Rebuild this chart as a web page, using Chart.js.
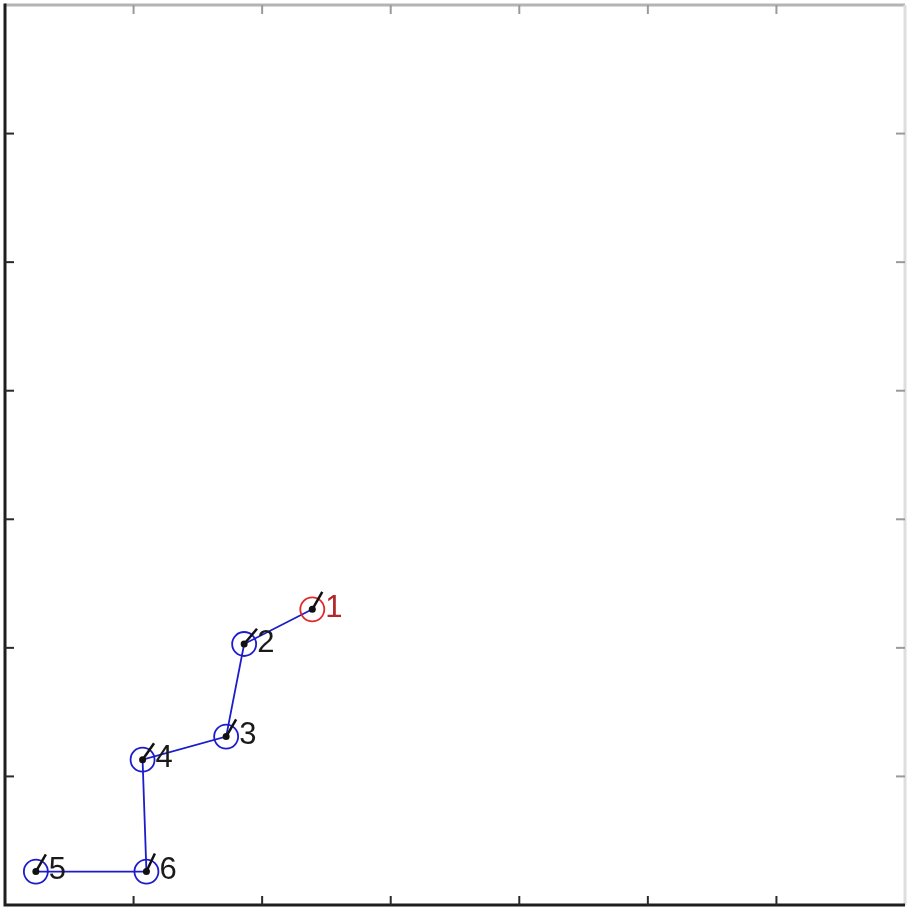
<!DOCTYPE html>
<html>
<head>
<meta charset="utf-8">
<script src="https://cdn.jsdelivr.net/npm/chart.js@4/dist/chart.umd.min.js"></script>
<style>
  html, body { margin: 0; padding: 0; background: #ffffff; }
  canvas { display: block; }
</style>
</head>
<body>
<canvas id="track" width="907" height="911"></canvas>
<script>
// Positions of the tracked object, in the order they were recorded
const xs = [2.39, 1.86, 1.72, 1.07, 1.10, 0.24];
const ys = [2.30, 2.03, 1.31, 1.13, 0.26, 0.26];
const pointLabels = ['1', '2', '3', '4', '6', '5'];
// Heading marker at each position, degrees (canvas orientation)
const headingDeg = [-60, -50, -60, -55, -65, -60];
// Axis range and tick positions
const axisMin = 0;
const axisMax = 7;
const tickValues = [1, 2, 3, 4, 5, 6];

const pts = xs.map((x, i) => ({ x: x, y: ys[i] }));
const ringColors = pts.map((_, i) => i === 0 ? '#e02a2a' : '#1c1ccc');
const labelColors = pts.map((_, i) => i === 0 ? '#b02828' : '#1a1a1a');

const framePlugin = {
  id: 'frame',
  afterDraw(chart) {
    const { ctx, chartArea: a, scales } = chart;
    const tl = 9;
    ctx.save();
    ctx.lineCap = 'butt';
    // top and right edges (light)
    ctx.lineWidth = 3;
    ctx.strokeStyle = '#b4b4b4';
    ctx.beginPath(); ctx.moveTo(a.left, a.top); ctx.lineTo(a.right, a.top); ctx.stroke();
    ctx.strokeStyle = '#dedede';
    ctx.beginPath(); ctx.moveTo(a.right, a.top); ctx.lineTo(a.right, a.bottom); ctx.stroke();
    // left and bottom edges (dark)
    ctx.strokeStyle = '#1e1e1e';
    ctx.beginPath(); ctx.moveTo(a.left, a.top - 1.5); ctx.lineTo(a.left, a.bottom); ctx.lineTo(a.right, a.bottom); ctx.stroke();
    // inward ticks
    ctx.lineWidth = 2;
    tickValues.forEach(v => {
      const px = scales.x.getPixelForValue(v);
      const py = scales.y.getPixelForValue(v);
      ctx.strokeStyle = '#2a2a2a';
      ctx.beginPath(); ctx.moveTo(px, a.bottom); ctx.lineTo(px, a.bottom - tl); ctx.stroke();
      ctx.beginPath(); ctx.moveTo(a.left, py); ctx.lineTo(a.left + tl, py); ctx.stroke();
      ctx.strokeStyle = '#9a9a9a';
      ctx.beginPath(); ctx.moveTo(px, a.top); ctx.lineTo(px, a.top + tl); ctx.stroke();
      ctx.beginPath(); ctx.moveTo(a.right, py); ctx.lineTo(a.right - tl, py); ctx.stroke();
    });
    ctx.restore();
  },
  afterDatasetsDraw(chart) {
    const { ctx, scales } = chart;
    ctx.save();
    ctx.font = '31px "Liberation Sans", Arial, sans-serif';
    ctx.textAlign = 'left';
    ctx.textBaseline = 'middle';
    pts.forEach((p, i) => {
      const px = scales.x.getPixelForValue(p.x);
      const py = scales.y.getPixelForValue(p.y);
      ctx.fillStyle = labelColors[i];
      ctx.fillText(pointLabels[i], px + 13, py - 1);
    });
    ctx.restore();
  }
};

new Chart(document.getElementById('track'), {
  type: 'scatter',
  data: {
    datasets: [
      {
        label: 'path',
        data: pts,
        showLine: true,
        borderColor: '#1c1ccc',
        borderWidth: 1.8,
        pointRadius: 12,
        pointBorderWidth: 1.8,
        pointBorderColor: ringColors,
        pointBackgroundColor: 'rgba(0,0,0,0)',
        order: 3
      },
      {
        label: 'heading',
        data: pts,
        showLine: false,
        pointStyle: 'dash',
        pointRadius: 20,
        pointRotation: headingDeg,
        pointBorderWidth: 2.5,
        pointBorderColor: '#111111',
        order: 1
      },
      {
        label: 'centre',
        data: pts,
        showLine: false,
        pointRadius: 3.5,
        pointBorderWidth: 0,
        pointBackgroundColor: '#111111',
        order: 2
      }
    ]
  },
  options: {
    responsive: false,
    animation: false,
    events: [],
    layout: { autoPadding: false, padding: { left: 5, top: 5, right: 2, bottom: 6 } },
    plugins: { legend: { display: false }, tooltip: { enabled: false } },
    scales: {
      x: { type: 'linear', min: axisMin, max: axisMax, display: false },
      y: { type: 'linear', min: axisMin, max: axisMax, display: false }
    }
  },
  plugins: [framePlugin]
});
</script>
</body>
</html>
